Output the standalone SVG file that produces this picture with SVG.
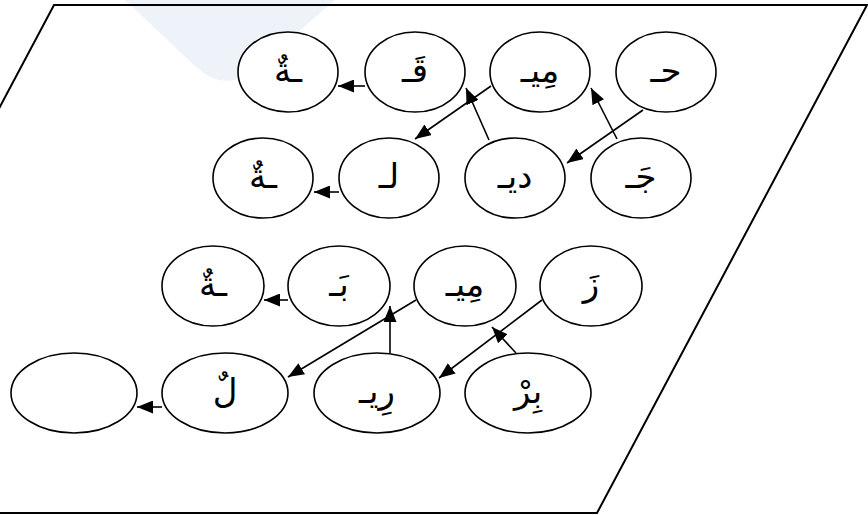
<svg xmlns="http://www.w3.org/2000/svg" width="868" height="515" viewBox="0 0 868 515">
<defs>
<marker id="ah" markerWidth="16" markerHeight="13" refX="16" refY="6.5" orient="auto" markerUnits="userSpaceOnUse">
<path d="M0,0 L16,6.5 L0,13 z" fill="#000"/>
</marker>
<style>
.n ellipse{fill:#fff;stroke:#000;stroke-width:1.6}
.n text{font-family:"DejaVu Sans",sans-serif;font-size:34px;fill:#000;text-anchor:middle}
#connectors line{stroke:#000;stroke-width:1.6;marker-end:url(#ah)}
</style>
</defs>
<rect width="868" height="515" fill="#fff"/>
<path d="M125,0 L195,66 Q227,96 259,66 L335,0 Z" fill="#eef2f9"/>
<polygon points="54,5 867,5 597,513 -216,513" fill="none" stroke="#000" stroke-width="2"/>
<g id="r1n1" class="n"><ellipse cx="288" cy="72" rx="50" ry="40"/><text x="288" y="82">ـةٌ</text></g>
<g id="r1n2" class="n"><ellipse cx="415" cy="72" rx="50" ry="40"/><text x="415" y="82">قَـ</text></g>
<g id="r1n3" class="n"><ellipse cx="540" cy="72" rx="50" ry="40"/><text x="540" y="82">مِيـ</text></g>
<g id="r1n4" class="n"><ellipse cx="666" cy="72" rx="50" ry="40"/><text x="666" y="82">حـ</text></g>
<g id="r2n1" class="n"><ellipse cx="263" cy="178" rx="50" ry="40"/><text x="263" y="188">ـةٌ</text></g>
<g id="r2n2" class="n"><ellipse cx="389" cy="178" rx="50" ry="40"/><text x="389" y="188">لـ</text></g>
<g id="r2n3" class="n"><ellipse cx="515" cy="178" rx="50" ry="40"/><text x="515" y="188">ديـ</text></g>
<g id="r2n4" class="n"><ellipse cx="641" cy="178" rx="50" ry="40"/><text x="641" y="188">جَـ</text></g>
<g id="r3n1" class="n"><ellipse cx="213" cy="286" rx="51" ry="40"/><text x="213" y="296">ـةٌ</text></g>
<g id="r3n2" class="n"><ellipse cx="339" cy="286" rx="51" ry="40"/><text x="339" y="296">بَـ</text></g>
<g id="r3n3" class="n"><ellipse cx="465" cy="286" rx="51" ry="40"/><text x="465" y="296">مِيـ</text></g>
<g id="r3n4" class="n"><ellipse cx="591" cy="286" rx="51" ry="40"/><text x="591" y="296">زَ</text></g>
<g id="r4n1" class="n"><ellipse cx="74" cy="393" rx="63" ry="40"/></g>
<g id="r4n2" class="n"><ellipse cx="225" cy="393" rx="63" ry="40"/><text x="225" y="403">لٌ</text></g>
<g id="r4n3" class="n"><ellipse cx="377" cy="393" rx="63" ry="40"/><text x="377" y="403">رِيـ</text></g>
<g id="r4n4" class="n"><ellipse cx="528" cy="393" rx="63" ry="40"/><text x="528" y="403">بِرْ</text></g>
<g id="connectors">
<line x1="365" y1="86" x2="338" y2="86"/>
<line x1="339" y1="192" x2="314" y2="192"/>
<line x1="288" y1="300" x2="264" y2="300"/>
<line x1="162" y1="407" x2="137" y2="407"/>
<line x1="491" y1="86" x2="415" y2="139"/>
<line x1="489" y1="140" x2="466" y2="88"/>
<line x1="617" y1="139" x2="591" y2="88"/>
<line x1="643" y1="110" x2="567" y2="163"/>
<line x1="416" y1="300" x2="288" y2="377"/>
<line x1="390" y1="353" x2="390" y2="306"/>
<line x1="542" y1="300" x2="439" y2="378"/>
<line x1="516" y1="353" x2="492" y2="327"/>
</g>
</svg>
